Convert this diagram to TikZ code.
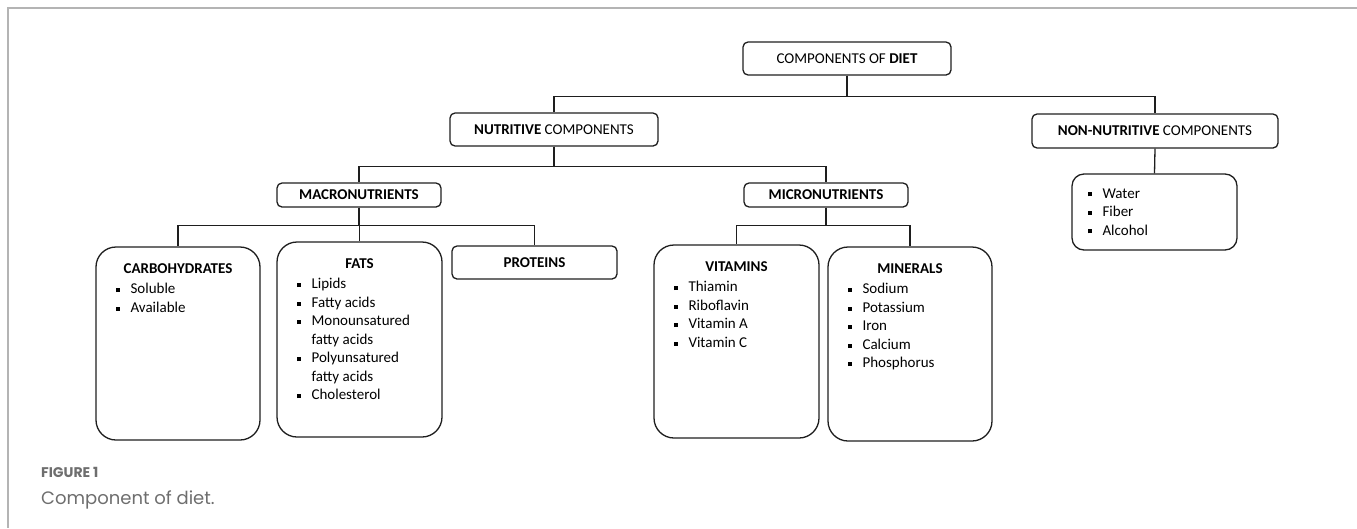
\documentclass[tikz,border=0pt]{standalone}
\usepackage{fontspec}
\setmainfont{Carlito}
\newfontfamily\capfont{Poppins}
\usetikzlibrary{positioning}
\definecolor{framegray}{HTML}{B4B4B4}
\definecolor{capgray}{HTML}{6E6E6E}
\definecolor{inkblack}{HTML}{1E1E1E}
\newcommand\sqbul{\makebox[15pt][l]{\rule[1.8pt]{4pt}{4pt}}}
\newcommand\sqgap{\hspace*{15pt}}

\begin{document}
\begin{tikzpicture}[x=1pt,y=-1pt,
  headbox/.style={draw=inkblack,line width=1.3pt,rounded corners=5pt,inner sep=0pt,
    font=\fontsize{15}{18.5}\selectfont},
  listbox/.style={draw=inkblack,line width=1.3pt,rounded corners=20pt,inner sep=0pt},
  boxtitle/.style={inner sep=0pt,font=\fontsize{15}{18.5}\selectfont\bfseries},
  boxlist/.style={inner sep=0pt,align=left,font=\fontsize{15}{18.5}\selectfont},
  link/.style={draw=inkblack,line width=1.3pt}]
\useasboundingbox (0,0) rectangle (1357,528);
\draw[framegray,line width=1.2pt] (1357,8) -- (8,8) -- (8,528);

\node[headbox,minimum width=208pt,minimum height=33pt] (diet) at (847,58.5) {COMPONENTS OF \textbf{DIET}};
\node[headbox,minimum width=208pt,minimum height=33pt] (nutritive) at (554,129.5) {\textbf{NUTRITIVE} COMPONENTS};
\node[headbox,minimum width=246pt,minimum height=34pt] (nonnutritive) at (1155,131) {\textbf{NON-NUTRITIVE} COMPONENTS};
\node[headbox,minimum width=164pt,minimum height=24pt] (macro) at (359,195) {\textbf{MACRONUTRIENTS}};
\node[headbox,minimum width=164pt,minimum height=24pt] (micro) at (826,195) {\textbf{MICRONUTRIENTS}};
\node[headbox,minimum width=165pt,minimum height=33pt] (proteins) at (534.5,262.5) {\textbf{PROTEINS}};

\node[listbox,minimum width=164pt,minimum height=193pt] (carbs) at (178,343.5) {};
\node[listbox,minimum width=165pt,minimum height=195pt] (fats) at (359.5,339.5) {};
\node[listbox,minimum width=165pt,minimum height=193pt] (vitamins) at (736.5,341.5) {};
\node[listbox,minimum width=164pt,minimum height=194pt] (minerals) at (910,344) {};
\node[listbox,rounded corners=12pt,minimum width=165pt,minimum height=76pt] (others) at (1154.5,212) {};

\node[boxtitle,below=17pt of carbs.north] (carbstitle) {CARBOHYDRATES};
\node[boxlist,below right=37pt and 20pt of carbs.north west] (carbslist) {\sqbul Soluble\\ \sqbul Available};
\node[boxtitle,below=17pt of fats.north] (fatstitle) {FATS};
\node[boxlist,below right=37pt and 20pt of fats.north west] (fatslist) {\sqbul Lipids\\ \sqbul Fatty acids\\
  \sqbul Monounsatured\\ \sqgap fatty acids\\ \sqbul Polyunsatured\\ \sqgap fatty acids\\ \sqbul Cholesterol};
\node[boxtitle,below=17pt of vitamins.north] (vitamintitle) {VITAMINS};
\node[boxlist,below right=37pt and 20pt of vitamins.north west] (vitaminlist) {\sqbul Thiamin\\ \sqbul Riboflavin\\
  \sqbul Vitamin A\\ \sqbul Vitamin C};
\node[boxtitle,below=17pt of minerals.north] (mineraltitle) {MINERALS};
\node[boxlist,below right=37pt and 20pt of minerals.north west] (minerallist) {\sqbul Sodium\\ \sqbul Potassium\\
  \sqbul Iron\\ \sqbul Calcium\\ \sqbul Phosphorus};
\node[boxlist,below right=15pt and 16pt of others.north west] (otherslist) {\sqbul Water\\ \sqbul Fiber\\ \sqbul Alcohol};

\draw[link] (diet.south) -- ++(0,21) -| (nutritive.north);
\draw[link] (diet.south) -- ++(0,21) -| (nonnutritive.north);
\draw[link] (nutritive.south) -- ++(0,20) -| (macro.north);
\draw[link] (nutritive.south) -- ++(0,20) -| (micro.north);
\draw[link] (macro.south) -- ++(0,18) -| (carbs.north);
\draw[link] (macro.south) -- ++(0,18) -| (fats.north);
\draw[link] (macro.south) -- ++(0,18) -| (proteins.north);
\draw[link] (micro.south) -- ++(0,18) -| (vitamins.north);
\draw[link] (micro.south) -- ++(0,18) -| (minerals.north);
\draw[link] (nonnutritive.south) -- (others.north);

\node[anchor=west,inner sep=0pt,text=capgray,font=\capfont\bfseries\fontsize{14}{16}\selectfont] (figlabel) at (41,472) {FIGURE 1};
\node[anchor=west,inner sep=0pt,text=capgray,font=\capfont\fontsize{18}{21}\selectfont] (figcaption) at (41,500) {Component of diet.};
\end{tikzpicture}
\end{document}
